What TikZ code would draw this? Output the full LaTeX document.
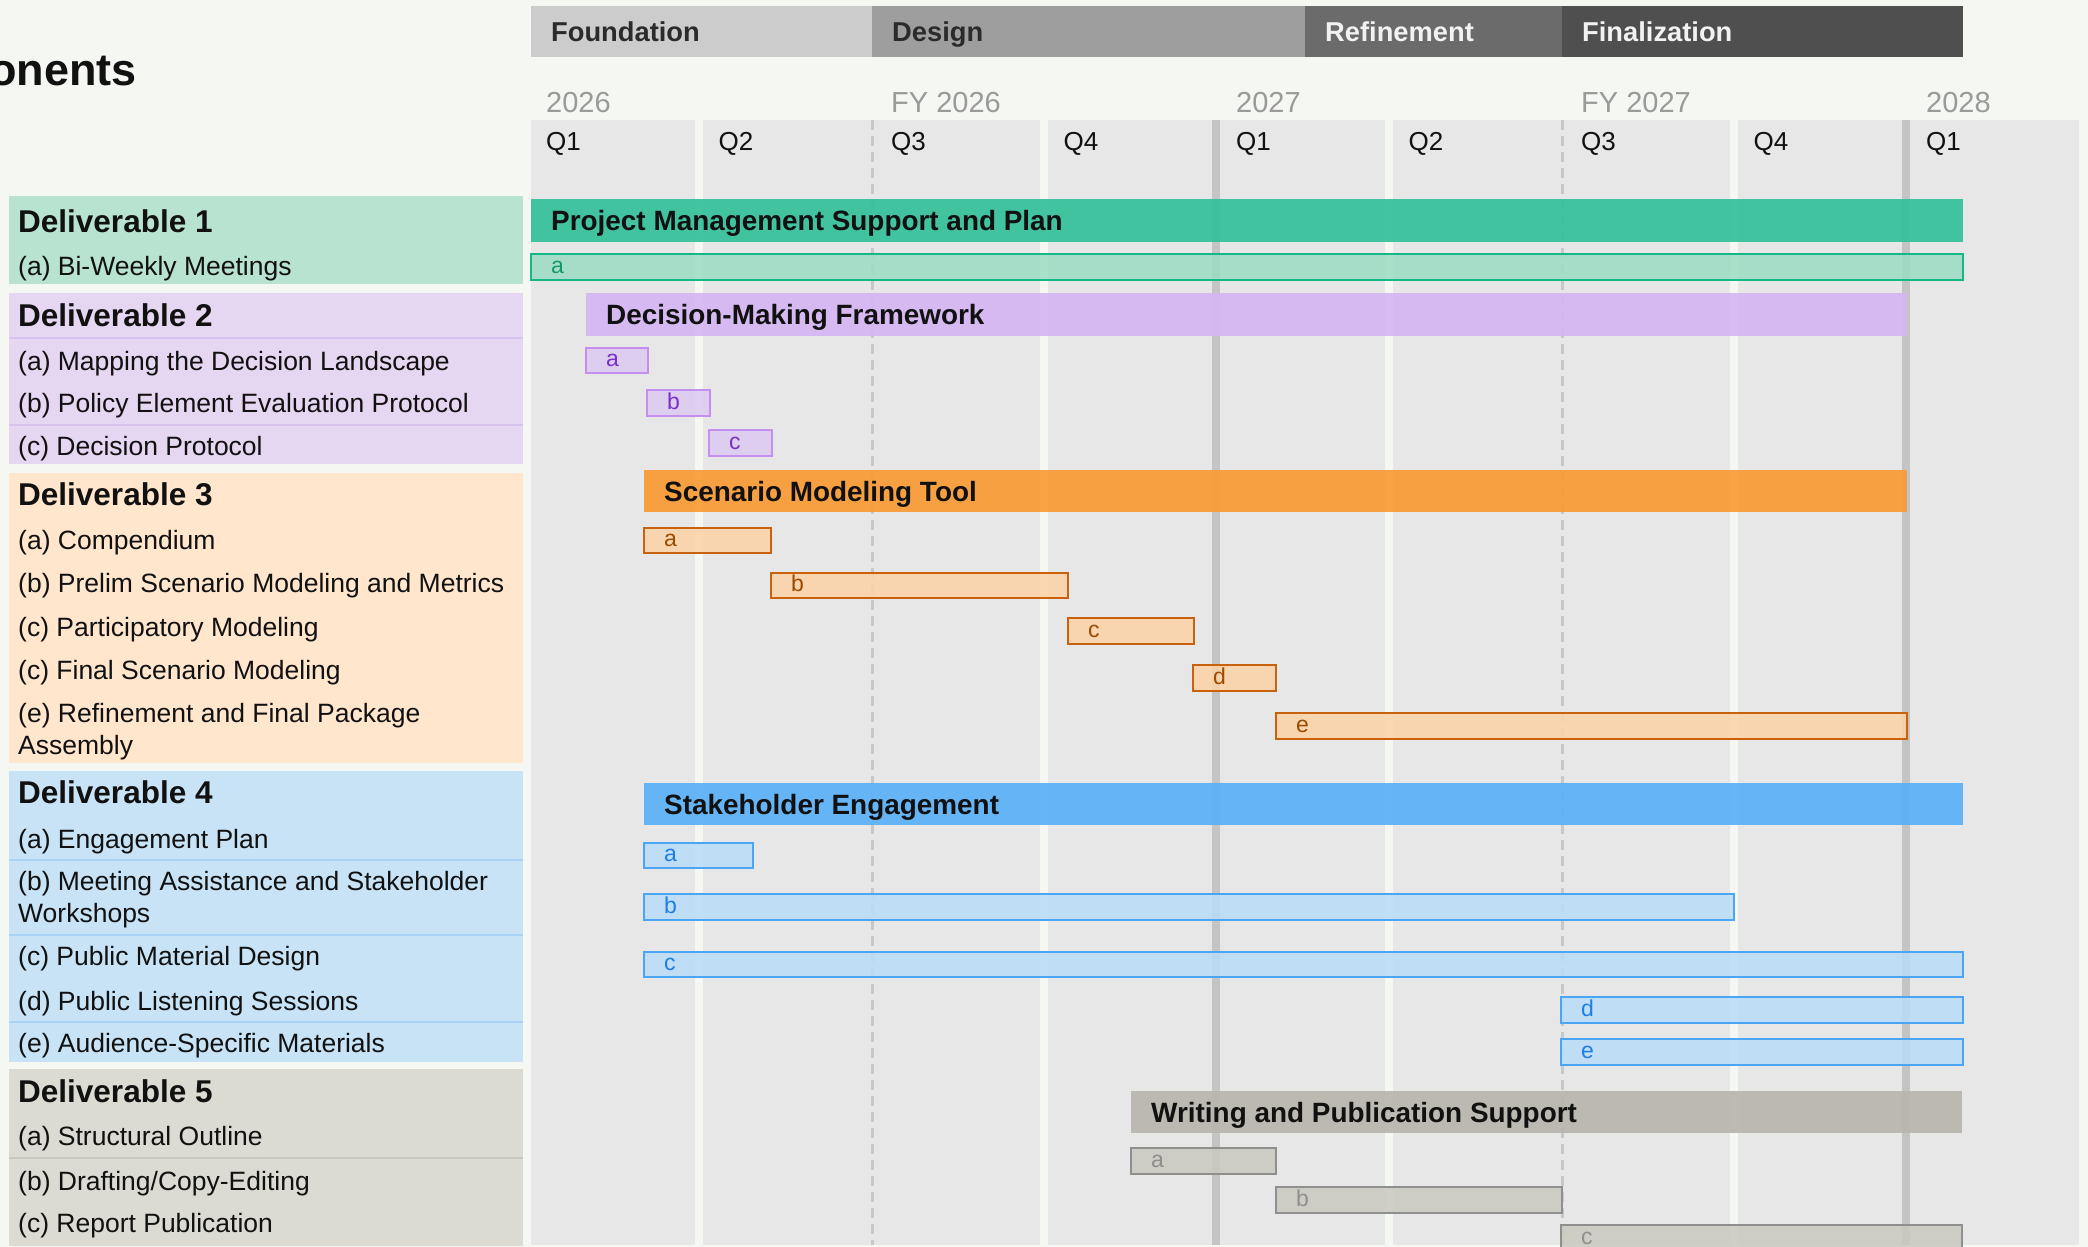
\documentclass[tikz,border=0pt]{standalone}
\usepackage{fontspec}
\setmainfont{Liberation Sans}
\usetikzlibrary{positioning}
\definecolor{bg}{HTML}{F5F7F2}
\definecolor{colgray}{HTML}{E7E7E7}
\definecolor{gridsolid}{HTML}{C4C4C4}
\definecolor{griddash}{HTML}{C8C8C8}
\definecolor{phaseA}{HTML}{CCCCCC}
\definecolor{phaseB}{HTML}{9E9E9E}
\definecolor{phaseC}{HTML}{6B6B6B}
\definecolor{phaseD}{HTML}{4F4F4F}
\definecolor{phasedark}{HTML}{2B2B2B}
\definecolor{phaselight}{HTML}{F2F2F2}
\definecolor{yeargray}{HTML}{9A9A9A}
\definecolor{ink}{HTML}{111111}
\definecolor{tealMain}{HTML}{34C09A}
\definecolor{tealSub}{HTML}{9BDCC3}
\definecolor{tealLine}{HTML}{14B887}
\definecolor{tealText}{HTML}{14996F}
\definecolor{purpleMain}{HTML}{D5B6F2}
\definecolor{purpleSub}{HTML}{DCC9F1}
\definecolor{purpleLine}{HTML}{C48FEF}
\definecolor{purpleText}{HTML}{7A2FC9}
\definecolor{orangeMain}{HTML}{F89B35}
\definecolor{orangeSub}{HTML}{FCD2A6}
\definecolor{orangeLine}{HTML}{C8620E}
\definecolor{orangeText}{HTML}{9C4A00}
\definecolor{blueMain}{HTML}{5BB0F8}
\definecolor{blueSub}{HTML}{B9DCF8}
\definecolor{blueLine}{HTML}{4BA5F5}
\definecolor{blueText}{HTML}{1D7FE5}
\definecolor{stoneMain}{HTML}{B9B4AE}
\definecolor{stoneSub}{HTML}{C9C8C0}
\definecolor{stoneLine}{HTML}{8F8F8F}
\definecolor{stoneText}{HTML}{8F8F8F}
\definecolor{dOne}{HTML}{B9E3D1}
\definecolor{dTwo}{HTML}{E5D6F1}
\definecolor{dThree}{HTML}{FFE6CC}
\definecolor{dFour}{HTML}{C7E3F5}
\definecolor{dFive}{HTML}{DBDBD3}
\definecolor{dTwoSep}{HTML}{D8C3EF}
\definecolor{dFourSep}{HTML}{A8D3F6}
\definecolor{dFiveSep}{HTML}{C8C8C0}
\tikzstyle{cell}=[inner sep=0pt, outer sep=0pt]
\tikzstyle{phasebox}=[cell]
\tikzstyle{mainbar}=[cell, fill opacity=0.92]
\tikzstyle{subbar}=[cell, line width=2.5pt, fill opacity=0.85]
\tikzstyle{bartext}=[inner sep=0pt, anchor=west, text=ink, font=\fontsize{27.9}{30}\selectfont\bfseries, text height=20pt, text depth=0pt]
\tikzstyle{phasetext}=[bartext, font=\fontsize{27.3}{30}\selectfont\bfseries, text height=19.5pt]
\tikzstyle{lettertext}=[inner sep=0pt, anchor=west, font=\fontsize{23}{26}\selectfont, text height=12pt, text depth=0pt]
\tikzstyle{yeartext}=[inner sep=0pt, anchor=base west, text=yeargray, font=\fontsize{29}{32}\selectfont]
\tikzstyle{quartertext}=[inner sep=0pt, anchor=base west, text=ink, font=\fontsize{26}{30}\selectfont]
\tikzstyle{deltitle}=[inner sep=0pt, anchor=base west, text=ink, font=\fontsize{31.5}{34}\selectfont\bfseries]
\tikzstyle{delitem}=[inner sep=0pt, anchor=base west, align=left, text=ink, font=\fontsize{26.5}{32}\selectfont]
\tikzstyle{gapline}=[bg, line width=7.5pt]
\tikzstyle{dashline}=[griddash, line width=3pt, dash pattern=on 10pt off 6pt]
\tikzstyle{yearline}=[gridsolid, line width=7.5pt]
\newcommand{\taskbar}[8]{%
  \node[#2, minimum width={(#4-#3)*1pt}, minimum height={(#6-#5)*1pt}] (#1) at ({(#3+#4)/2},{(#5+#6)/2}) {};
  \node[#7] (#1-text) at ([xshift=20pt]#1.west) {#8};}
\newcommand{\panel}[4]{%
  \node[cell, fill=#2, minimum width=514pt, minimum height={(#4-#3)*1pt}] (#1) at (266,{(#3+#4)/2}) {};}

\begin{document}
\begin{tikzpicture}[x=1pt, y=-1pt]
\useasboundingbox (0,0) rectangle (2088,1247);
\clip (0,0) rectangle (2088,1247);
\fill[bg] (0,0) rectangle (2088,1247);
\node[anchor=base east, inner sep=0pt, text=ink, font=\fontsize{45}{48}\selectfont\bfseries] (title) at (137,85) {onents};

\taskbar{foundation}{phasebox, fill=phaseA}{531}{872}{6}{57}{phasetext, text=phasedark}{Foundation}
\taskbar{design}{phasebox, fill=phaseB}{872}{1305}{6}{57}{phasetext, text=phasedark}{Design}
\taskbar{refinement}{phasebox, fill=phaseC}{1305}{1562}{6}{57}{phasetext, text=phaselight}{Refinement}
\taskbar{finalization}{phasebox, fill=phaseD}{1562}{1963}{6}{57}{phasetext, text=phaselight}{Finalization}

\foreach \yr [count=\i from 0] in {2026, FY 2026, 2027, FY 2027, 2028}
  \node[yeartext] (year\i) at ({546+345*\i},112) {\yr};

\fill[colgray] (531,120) rectangle (2079,1245);
\foreach \x in {699,1044,1389,1734}
  \draw[gapline] (\x,120) -- (\x,1245);
\foreach \x in {872,1562}
  \draw[dashline] (\x,120) -- (\x,1245);
\foreach \x in {1216,1906}
  \draw[yearline] (\x,120) -- (\x,1245);
\foreach \qq [count=\i from 0] in {Q1,Q2,Q3,Q4,Q1,Q2,Q3,Q4,Q1}
  \node[quartertext] (quarter\i) at ({546+172.5*\i},150) {\qq};

\panel{d1box}{dOne}{196}{284}
\panel{d2box}{dTwo}{293}{464}
\panel{d3box}{dThree}{473}{763}
\panel{d4box}{dFour}{771}{1062}
\panel{d5box}{dFive}{1069}{1246}
\foreach \y in {338,425}
  \draw[dTwoSep, line width=2pt] (9,\y) -- (523,\y);
\foreach \y in {860,935,1022}
  \draw[dFourSep, line width=2pt] (9,\y) -- (523,\y);
\draw[dFiveSep, line width=2pt] (9,1158) -- (523,1158);

\node[deltitle] (d1title) at (18,232) {Deliverable 1};
\node[delitem] (d1a) at (18,275) {(a) Bi-Weekly Meetings};
\node[deltitle] (d2title) at (18,326) {Deliverable 2};
\node[delitem] (d2a) at (18,370) {(a) Mapping the Decision Landscape};
\node[delitem] (d2b) at (18,412) {(b) Policy Element Evaluation Protocol};
\node[delitem] (d2c) at (18,455) {(c) Decision Protocol};
\node[deltitle] (d3title) at (18,505) {Deliverable 3};
\node[delitem] (d3a) at (18,549) {(a) Compendium};
\node[delitem] (d3b) at (18,592) {(b) Prelim Scenario Modeling and Metrics};
\node[delitem] (d3c) at (18,636) {(c) Participatory Modeling};
\node[delitem] (d3d) at (18,679) {(c) Final Scenario Modeling};
\node[delitem] (d3e) at (18,754) {(e) Refinement and Final Package\\Assembly};
\node[deltitle] (d4title) at (18,803) {Deliverable 4};
\node[delitem] (d4a) at (18,848) {(a) Engagement Plan};
\node[delitem] (d4b) at (18,922) {(b) Meeting Assistance and Stakeholder\\Workshops};
\node[delitem] (d4c) at (18,965) {(c) Public Material Design};
\node[delitem] (d4d) at (18,1010) {(d) Public Listening Sessions};
\node[delitem] (d4e) at (18,1052) {(e) Audience-Specific Materials};
\node[deltitle] (d5title) at (18,1102) {Deliverable 5};
\node[delitem] (d5a) at (18,1145) {(a) Structural Outline};
\node[delitem] (d5b) at (18,1190) {(b) Drafting/Copy-Editing};
\node[delitem] (d5c) at (18,1232) {(c) Report Publication};

\taskbar{pm}{mainbar, fill=tealMain}{531}{1963}{199}{242}{bartext}{Project Management Support and Plan}
\taskbar{pmA}{subbar, fill=tealSub, draw=tealLine}{531}{1963}{254}{280}{lettertext, text=tealText}{a}

\taskbar{dm}{mainbar, fill=purpleMain}{586}{1907}{293}{336}{bartext}{Decision-Making Framework}
\taskbar{dmA}{subbar, fill=purpleSub, draw=purpleLine}{586}{648}{348}{373}{lettertext, text=purpleText}{a}
\taskbar{dmB}{subbar, fill=purpleSub, draw=purpleLine}{647}{710}{390}{416}{lettertext, text=purpleText}{b}
\taskbar{dmC}{subbar, fill=purpleSub, draw=purpleLine}{709}{772}{430}{456}{lettertext, text=purpleText}{c}

\taskbar{sm}{mainbar, fill=orangeMain}{644}{1907}{470}{512}{bartext}{Scenario Modeling Tool}
\taskbar{smA}{subbar, fill=orangeSub, draw=orangeLine}{644}{771}{528}{553}{lettertext, text=orangeText}{a}
\taskbar{smB}{subbar, fill=orangeSub, draw=orangeLine}{771}{1068}{573}{598}{lettertext, text=orangeText}{b}
\taskbar{smC}{subbar, fill=orangeSub, draw=orangeLine}{1068}{1194}{618}{644}{lettertext, text=orangeText}{c}
\taskbar{smD}{subbar, fill=orangeSub, draw=orangeLine}{1193}{1276}{665}{691}{lettertext, text=orangeText}{d}
\taskbar{smE}{subbar, fill=orangeSub, draw=orangeLine}{1276}{1907}{713}{739}{lettertext, text=orangeText}{e}

\taskbar{se}{mainbar, fill=blueMain}{644}{1963}{783}{825}{bartext}{Stakeholder Engagement}
\taskbar{seA}{subbar, fill=blueSub, draw=blueLine}{644}{753}{843}{868}{lettertext, text=blueText}{a}
\taskbar{seB}{subbar, fill=blueSub, draw=blueLine}{644}{1734}{894}{920}{lettertext, text=blueText}{b}
\taskbar{seC}{subbar, fill=blueSub, draw=blueLine}{644}{1963}{952}{977}{lettertext, text=blueText}{c}
\taskbar{seD}{subbar, fill=blueSub, draw=blueLine}{1561}{1963}{997}{1023}{lettertext, text=blueText}{d}
\taskbar{seE}{subbar, fill=blueSub, draw=blueLine}{1561}{1963}{1039}{1065}{lettertext, text=blueText}{e}

\taskbar{wp}{mainbar, fill=stoneMain}{1131}{1962}{1091}{1133}{bartext}{Writing and Publication Support}
\taskbar{wpA}{subbar, fill=stoneSub, draw=stoneLine}{1131}{1276}{1148}{1174}{lettertext, text=stoneText}{a}
\taskbar{wpB}{subbar, fill=stoneSub, draw=stoneLine}{1276}{1562}{1187}{1213}{lettertext, text=stoneText}{b}
\taskbar{wpC}{subbar, fill=stoneSub, draw=stoneLine}{1561}{1962}{1225}{1251}{lettertext, text=stoneText}{c}
\end{tikzpicture}
\end{document}
